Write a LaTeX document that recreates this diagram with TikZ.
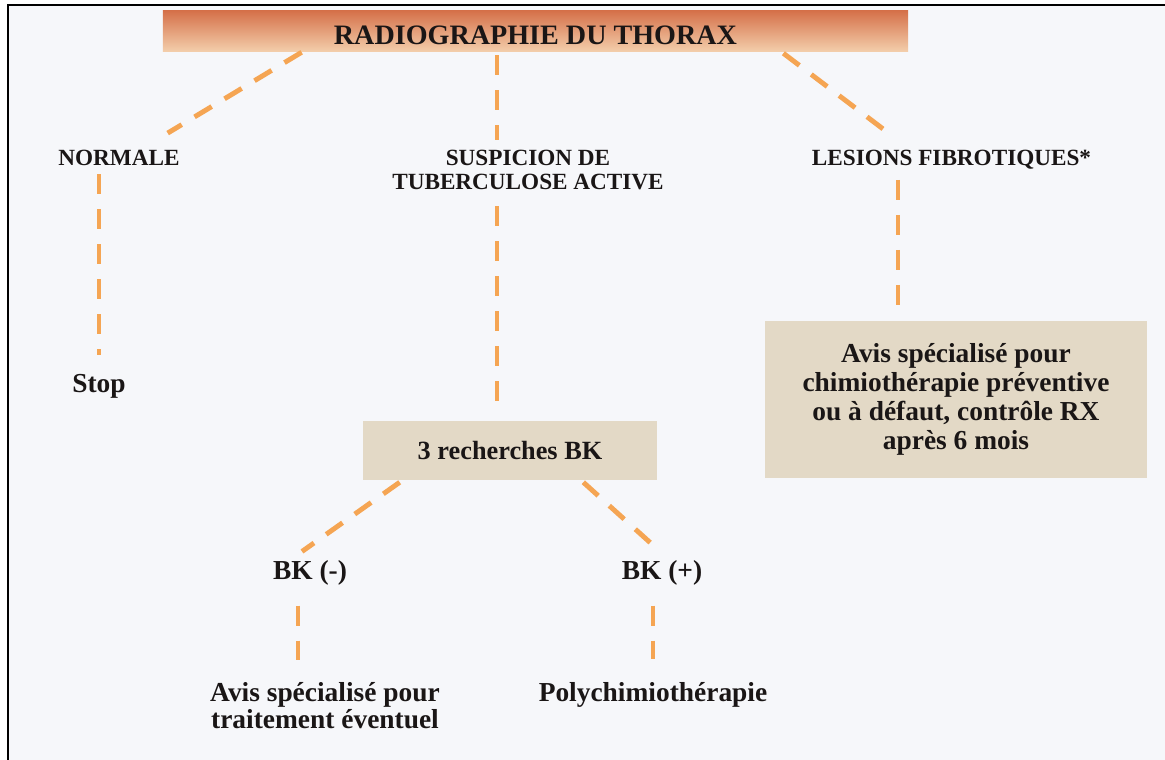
\documentclass[tikz,border=0pt]{standalone}
\usepackage{fontspec}
\setmainfont{Liberation Serif}
\usepackage{xcolor}
\usetikzlibrary{calc}
\definecolor{pagebg}{HTML}{F6F7FA}
\definecolor{bartop}{HTML}{D5714A}
\definecolor{barbot}{HTML}{F3CDAA}
\definecolor{boxfill}{HTML}{E3D9C6}
\definecolor{dashcol}{HTML}{F5A553}
\definecolor{ink}{HTML}{1A1616}

\begin{document}
\begin{tikzpicture}[x=0.025cm, y=-0.025cm,
  text=ink,
  caps/.style={inner sep=2pt, align=center, font=\bfseries\fontsize{16.5}{17.2}\selectfont},
  txt/.style={inner sep=2pt, align=center, font=\bfseries\fontsize{19.5}{19.2}\selectfont},
  box/.style={txt, fill=boxfill, minimum width=#1},
  link/.style={draw=dashcol, line width=3.5pt, dash pattern=on 0.5cm off 0.375cm}]
\useasboundingbox (0,0) rectangle (1165,760);
\fill[white] (0,0) rectangle (1165,760);
\fill[pagebg] (8,5) rectangle (1165,760);
\draw[black, line width=1.5pt] (1165,5) -- (8,5) -- (8,760);
\node[top color=bartop, bottom color=barbot, minimum width=18.625cm, minimum height=1cm,
      inner sep=0pt, text height=20pt, font=\bfseries\fontsize{20}{24}\selectfont] (bar) at (535.5,31) {RADIOGRAPHIE DU THORAX};
\node[caps] (normale) at (119,158)   {NORMALE};
\node[caps] (susp)    at (528,170)   {SUSPICION DE\\TUBERCULOSE ACTIVE};
\node[caps] (lesions) at (951.5,160) {LESIONS FIBROTIQUES*};
\node[txt]  (stop)    at (99,386)    {Stop};
\node[box=7.35cm, minimum height=1.475cm, font=\bfseries\fontsize{18.7}{19}\selectfont] (bk) at (510,450.5) {3 recherches BK};
\node[box=9.55cm, minimum height=3.9cm, font=\bfseries\fontsize{19.5}{20.6}\selectfont] (avis) at (956,399.5)
  {Avis spécialisé pour\\chimiothérapie préventive\\ou à défaut, contrôle RX\\après 6 mois};
\node[txt] (bkneg)  at (310,573) {BK (-)};
\node[txt] (bkpos)  at (662,573) {BK (+)};
\node[txt] (avisbk) at (325,706) {Avis spécialisé pour\\traitement éventuel};
\node[txt] (poly)   at (653,695) {Polychimiothérapie};
\coordinate (trunk) at (497,0);
\coordinate (side)  at (898,0);
\coordinate (negx)  at (298,0);
% branches from the bar
\draw[link] ($(bar.south west)+(139,1)$) -- ($(normale.north east)+(-15,-14)$);
\draw[link, shorten <=0.1cm, shorten >=0.17cm] (bar.south -| trunk) -- (susp.north -| trunk);
\draw[link] ($(bar.south east)+(-125,2)$) -- ($(lesions.north west)+(80,-14)$);
% vertical runs
\draw[link, shorten <=0.13cm, shorten >=0.4cm] (normale.south -| stop) -- (stop.north);
\draw[link, shorten <=0.33cm, shorten >=0.2cm] (susp.south -| trunk) -- (bk.north -| trunk);
\draw[link, shorten <=0.18cm, shorten >=0.04cm] (lesions.south -| side) -- (avis.north -| side);
% BK results
\draw[link] ($(bk.south west)+(37,2)$) -- ($(bkneg.north)+(-8,-6)$);
\draw[link] ($(bk.south east)+(-74,2)$) -- ($(bkpos.north)+(-2,-6)$);
\draw[link, shorten <=0.43cm, shorten >=0.5cm] (bkneg.south -| negx) -- (avisbk.north -| negx);
\draw[link, shorten <=0.43cm, shorten >=0.5cm] (bkpos.south -| poly) -- (poly.north);
\end{tikzpicture}
\end{document}
